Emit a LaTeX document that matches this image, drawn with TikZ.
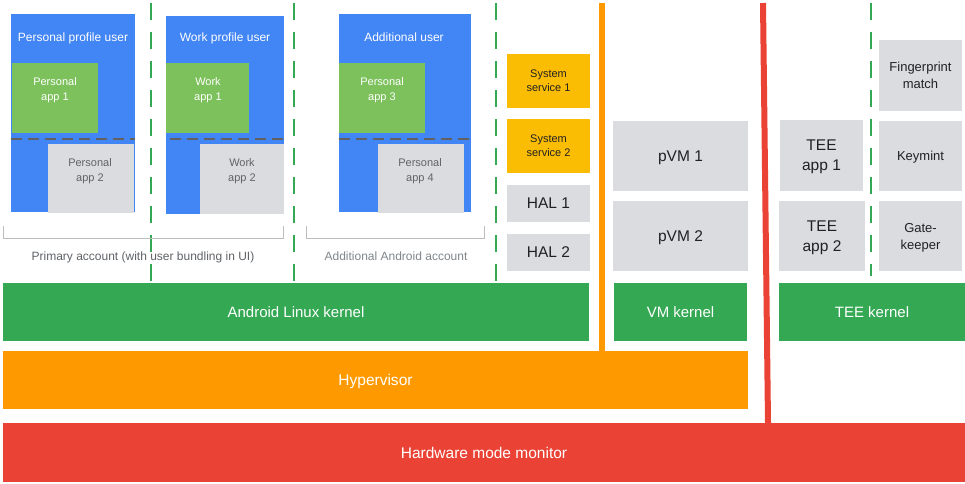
\documentclass[tikz,border=0pt]{standalone}
\usepackage{fontspec}
\setmainfont{Liberation Sans}
\usetikzlibrary{fit}
\definecolor{gblue}{HTML}{4285F4}
\definecolor{gapp}{HTML}{7CC15B}
\definecolor{ggray}{HTML}{DADCE0}
\definecolor{gyellow}{HTML}{FBBC04}
\definecolor{gorange}{HTML}{FF9900}
\definecolor{gred}{HTML}{EA4335}
\definecolor{gkgreen}{HTML}{34A853}
\definecolor{gdark}{HTML}{202124}
\definecolor{gmid}{HTML}{5F6368}
\definecolor{glight}{HTML}{80868B}
\definecolor{gbracket}{HTML}{BDBDBD}
\definecolor{gdash}{HTML}{616161}
\begin{document}
\begin{tikzpicture}[x=1pt,y=-1pt,
  base/.style={rectangle, inner sep=0pt, outer sep=0pt, draw=none, align=center, text depth=0pt},
  sz/.style 2 args={minimum width=#1pt, minimum height=#2pt},
  userbox/.style={base, fill=gblue},
  appbox/.style={base, fill=gapp},
  graybox/.style={base, fill=ggray, text=gdark},
  svcbox/.style={base, fill=gyellow, text=gdark, font=\fontsize{11}{14}\selectfont},
  halbox/.style={base, fill=ggray, text=gdark, font=\fontsize{15.5}{20}\selectfont},
  teebox/.style={base, fill=ggray, text=gdark, font=\fontsize{13}{17}\selectfont},
  kernel/.style={base, fill=gkgreen, text=white, font=\fontsize{15}{18}\selectfont},
  title/.style={text=white, font=\fontsize{12}{14}\selectfont, inner sep=0pt, text depth=0pt},
  apptxt/.style={font=\fontsize{11}{15}\selectfont, align=center, inner sep=0pt, text depth=0pt},
  caption/.style={font=\fontsize{12}{14}\selectfont, inner sep=0pt, text depth=0pt},
  sepline/.style={draw=gkgreen, line width=2pt, dash pattern=on 17pt off 12pt},
  appsep/.style={draw=gdash, line width=2.5pt, dash pattern=on 11pt off 6pt},
  bracket/.style={draw=gbracket, line width=1pt},
  vline/.style={line width=6pt}
]
\useasboundingbox[fill=white] (0,0) rectangle (965,483);

% separators
\draw[sepline] (151,3) -- (151,283);
\draw[sepline] (294,3) -- (294,283);
\draw[sepline] (496,3) -- (496,283);
\draw[sepline] (871,3) -- (871,276);

% user boxes
\node[userbox, fit={(11,14) (135,212)}] (pu) {};
\node[title] (put) at (73,37) {Personal profile user};
\node[appbox, fit={(12,63) (98,133)}] (pa1) {};
\node[apptxt, text=white] (pa1t) at (55,89) {Personal\\app 1};
\node[graybox, fit={(48,144) (134,213)}] (pa2) {};
\node[apptxt, text=gmid] (pa2t) at (90,170) {Personal\\app 2};
\draw[appsep] (11,139) -- (135,139);

\node[userbox, fit={(166,16) (284,214)}] (wu) {};
\node[title] (wut) at (225,37) {Work profile user};
\node[appbox, fit={(166,63) (249,133)}] (wa1) {};
\node[apptxt, text=white] (wa1t) at (208,89) {Work\\app 1};
\node[graybox, fit={(200,144) (284,214)}] (wa2) {};
\node[apptxt, text=gmid] (wa2t) at (242,170) {Work\\app 2};
\draw[appsep] (170,139) -- (284,139);

\node[userbox, fit={(339,14) (471,212)}] (au) {};
\node[title] (aut) at (404,37) {Additional user};
\node[appbox, fit={(339,63) (425,133)}] (aa1) {};
\node[apptxt, text=white] (aa1t) at (382,89) {Personal\\app 3};
\node[graybox, fit={(378,144) (464,213)}] (aa2) {};
\node[apptxt, text=gmid] (aa2t) at (420,170) {Personal\\app 4};
\draw[appsep] (339,139) -- (470,139);

% brackets
\draw[bracket] (3,226) -- (3,238) -- (283,238) -- (283,226);
\node[caption, text=gmid] (pacc) at (143,256) {Primary account (with user bundling in UI)};
\draw[bracket] (306,226) -- (306,238) -- (484,238) -- (484,226);
\node[caption, text=glight] (aacc) at (396,256) {Additional Android account};

% system services and HALs
\node[svcbox, sz={83}{54}] (ss1) at (548.5,81) {System\\service 1};
\node[svcbox, sz={83}{54}] (ss2) at (548.5,146) {System\\service 2};
\node[halbox, sz={83}{37}] (hal1) at (548.5,203.5) {HAL 1};
\node[halbox, sz={83}{37}] (hal2) at (548.5,252.5) {HAL 2};

% pVMs
\node[halbox, sz={135}{70}] (pvm1) at (680.5,156) {pVM 1};
\node[halbox, sz={135}{70}] (pvm2) at (680.5,236) {pVM 2};

% TEE
\node[halbox, sz={83}{71}] (tee1) at (821.5,155.5) {TEE\\app 1};
\node[halbox, sz={86}{70}] (tee2) at (822,236) {TEE\\app 2};
\node[teebox, sz={83}{71}] (fp) at (920.5,75.5) {Fingerprint\\match};
\node[teebox, sz={83}{70}] (km) at (920.5,156) {Keymint};
\node[teebox, sz={83}{70}] (gk) at (920.5,236) {Gate-\\keeper};

% kernels
\node[kernel, sz={586}{58}] (alk) at (296,312) {Android Linux kernel};
\node[kernel, sz={133}{58}] (vmk) at (680.5,312) {VM kernel};
\node[kernel, sz={186}{58}] (teek) at (872,312) {TEE kernel};

% hypervisor and monitor
\node[base, fill=gorange, text=white, font=\fontsize{15.5}{18}\selectfont, sz={745}{58}] (hyp) at (375.5,380) {Hypervisor};
\node[base, fill=gred, text=white, font=\fontsize{15.5}{18}\selectfont, sz={962}{59}] (hmm) at (484,452.5) {Hardware mode monitor};

% vertical boundary lines
\coordinate (otop) at (602,3);
\draw[vline, draw=gorange] (otop) -- (hyp.north -| otop);
\coordinate (rtop) at (763,3);
\coordinate (rbot) at (768,423);
\draw[vline, draw=gred] (rtop) -- (rbot);
\end{tikzpicture}
\end{document}
